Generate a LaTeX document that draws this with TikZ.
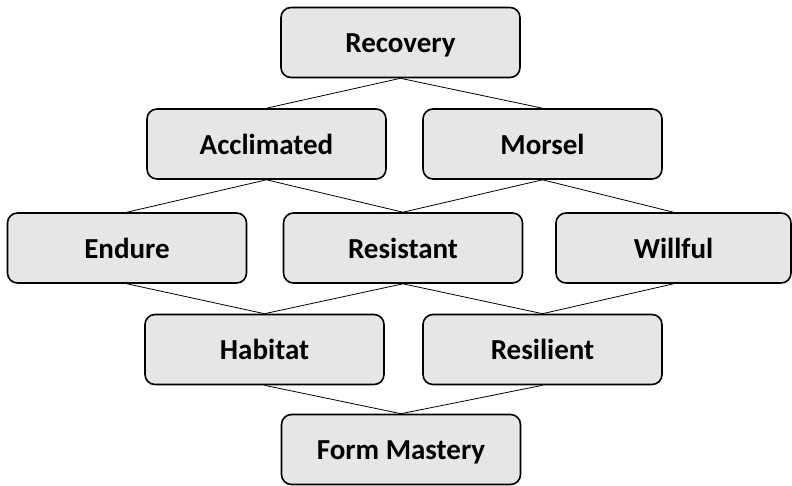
\documentclass[tikz,border=0pt]{standalone}
\usepackage{fontspec}
\setmainfont{Carlito}
\begin{document}
\begin{tikzpicture}[x=1pt,y=-1pt,
  box/.style={draw=black, line width=1.6pt, fill=boxgray, rounded corners=10pt,
    minimum width=239pt, minimum height=70pt, inner sep=0pt,
    text height=23pt, text depth=3pt,
    font=\fontsize{29}{33}\selectfont\bfseries},
  link/.style={draw=black, line width=0.8pt}]
\definecolor{boxgray}{HTML}{E6E6E6}
\useasboundingbox (0,0) rectangle (792,485);
% boxes, top to bottom
\node[box] (recovery)   at (400.5,42.5) {Recovery};
\node[box] (acclimated) at (266.5,144)  {Acclimated};
\node[box] (morsel)     at (542.5,144)  {Morsel};
\node[box] (endure)     at (127,248)    {Endure};
\node[box] (resistant)  at (403,248)    {Resistant};
\node[box, minimum width=235pt] (willful) at (673.5,248) {Willful};
\node[box] (habitat)    at (264.5,349.5) {Habitat};
\node[box] (resilient)  at (542.5,349.5) {Resilient};
\node[box] (mastery)    at (401,449.5)  {Form Mastery};
% connectors, parent bottom to child top
\draw[link] (recovery.south) -- (acclimated.north);
\draw[link] (recovery.south) -- (morsel.north);
\draw[link] (acclimated.south) -- (endure.north);
\draw[link] (acclimated.south) -- (resistant.north);
\draw[link] (morsel.south) -- (resistant.north);
\draw[link] (morsel.south) -- (willful.north);
\draw[link] (endure.south) -- (habitat.north);
\draw[link] (resistant.south) -- (habitat.north);
\draw[link] (resistant.south) -- (resilient.north);
\draw[link] (willful.south) -- (resilient.north);
\draw[link] (habitat.south) -- (mastery.north);
\draw[link] (resilient.south) -- (mastery.north);
\end{tikzpicture}
\end{document}
